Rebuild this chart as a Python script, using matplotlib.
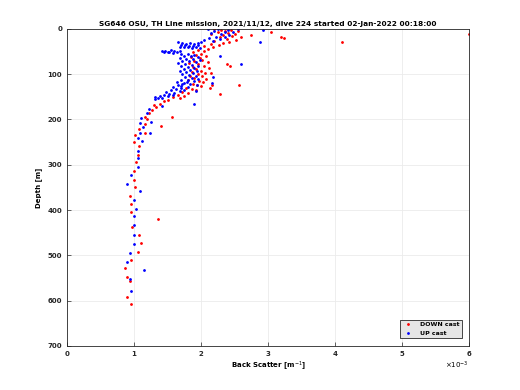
import numpy as np
import matplotlib
matplotlib.use('Agg')
import matplotlib.pyplot as plt

# back scatter in units of 1e-3 m^-1, depth in m
down_bs = [2.20, 2.30, 2.45, 2.35, 2.55, 2.25, 2.40, 2.50, 2.15, 2.32, 2.46, 2.60, 2.28, 2.38,
           2.52, 2.20, 2.42, 2.33, 2.15, 2.27, 2.05, 2.18, 2.10,
           3.05, 3.20, 3.24, 4.10, 6.00, 2.75,
           1.95, 2.05, 1.88, 2.00, 1.92, 2.08, 1.85, 1.98, 2.02, 1.90, 2.10, 1.82, 1.96, 2.04,
           1.88, 2.12, 1.93, 2.00, 1.86, 2.06, 1.95, 1.84, 2.02, 1.90, 2.08, 1.80, 1.97, 2.03,
           1.88, 1.94, 2.00, 1.78, 1.86, 1.92, 1.72, 1.80, 1.65, 1.74, 1.58, 1.68, 1.50,
           2.38, 2.43, 2.16, 2.13, 2.29, 2.56, 2.15,
           1.45, 1.38, 1.33, 1.29, 1.27, 1.22, 1.16, 1.57, 1.20, 1.40, 1.17, 1.07, 1.16, 1.01,
           1.00, 1.08, 1.06, 1.03, 1.00, 1.00, 1.02, 0.94, 0.96, 0.96, 1.36, 0.97, 1.08, 1.11,
           1.06, 0.96, 0.87, 0.90, 0.94, 0.90, 0.96]
down_z = [1, 2, 3, 5, 4, 7, 9, 11, 12, 14, 16, 18, 19, 22,
          24, 26, 28, 31, 33, 36, 38, 41, 44,
          7, 17, 21, 29, 12, 14,
          47, 49, 52, 55, 58, 60, 63, 65, 68, 71, 73, 76, 78, 81,
          84, 86, 89, 92, 95, 97, 100, 103, 105, 108, 110, 113, 115, 118,
          121, 124, 127, 130, 133, 136, 139, 142, 145, 148, 151, 153, 156,
          78, 83, 124, 131, 143, 124, 98,
          160, 165, 172, 168, 180, 185, 194, 194, 200, 214, 210, 221, 229, 234,
          249, 258, 278, 295, 314, 333, 350, 368, 386, 404, 420, 437, 455, 473,
          492, 511, 529, 548, 556, 593, 607]

up_bs = [2.10, 2.25, 2.40, 2.55, 2.93, 2.20, 2.35, 2.48, 2.15, 2.30, 2.42, 2.22, 2.36, 2.12,
         2.28, 2.05, 2.18, 2.88, 2.00, 1.95,
         1.66, 1.72, 1.78, 1.84, 1.90, 1.70, 1.76, 1.82, 1.88, 1.96, 1.68, 1.74, 1.80, 1.86,
         1.92, 1.98,
         1.41, 1.46, 1.50, 1.55, 1.60, 1.64, 1.69, 1.52, 1.58, 1.44,
         1.70, 1.80, 1.90, 1.75, 1.85, 1.95, 1.68, 1.78, 1.88, 1.98, 1.72, 1.82, 1.92, 1.66,
         1.76, 1.86, 1.96, 1.70, 1.80, 1.90, 1.74, 1.84, 1.94, 1.68, 1.78, 1.88, 1.72, 1.82,
         1.92, 1.76, 1.86, 1.96, 1.70, 1.80, 1.90, 1.64, 1.74, 1.84, 1.94, 1.70, 1.80,
         1.79, 1.72, 1.65, 1.58, 1.70, 1.62, 1.55, 1.48, 1.75, 1.68, 1.60, 1.52, 1.45, 1.38,
         1.31, 1.42, 1.50, 1.58, 1.35,
         2.59, 2.16, 2.18, 2.28, 1.92, 1.89,
         1.31, 1.41, 1.23, 1.19, 1.26, 1.10, 1.09, 1.13, 1.09, 1.24, 1.06, 1.12,
         1.06, 1.06, 1.06, 0.96, 0.90, 1.09, 1.00, 1.03, 1.00, 1.00, 1.00, 1.00, 0.94, 0.90,
         1.15, 0.94, 0.96]
up_z = [0, 1, 2, 1, 2, 4, 6, 8, 10, 12, 14, 17, 19, 21,
        23, 25, 27, 28, 30, 32,
        30, 31, 33, 32, 34, 35, 36, 37, 38, 36, 39, 40, 41, 42,
        40, 42,
        49, 48, 50, 47, 49, 51, 48, 52, 53, 51,
        55, 56, 57, 59, 61, 62, 64, 66, 67, 69, 71, 72, 74, 76,
        78, 79, 81, 83, 85, 86, 88, 90, 92, 94, 96, 98, 100, 102,
        104, 106, 108, 110, 112, 114, 116, 118, 120, 122, 124, 126, 128,
        118, 121, 125, 128, 130, 133, 136, 139, 134, 138, 141, 143, 145, 148,
        150, 152, 148, 146, 153,
        77, 120, 107, 61, 137, 166,
        155, 171, 177, 186, 205, 197, 207, 217, 229, 229, 240, 247,
        269, 286, 306, 323, 342, 358, 378, 397, 414, 434, 454, 474, 494, 514,
        532, 552, 578]

fs = 5
fig = plt.figure(figsize=(5.2, 3.9), dpi=100)
ax = fig.add_axes([0.129, 0.113, 0.773, 0.813])
ax.plot(down_bs, down_z, '.', color='red', markersize=2, label='DOWN cast')
ax.plot(up_bs, up_z, '.', color='blue', markersize=2, label='UP cast')

ax.set_xlim(0, 6)
ax.set_ylim(700, 0)
ax.set_xticks(range(7))
ax.set_yticks(range(0, 701, 100))
ax.tick_params(direction='in', labelsize=fs, length=3, width=0.5, colors='#262626')
for lab in ax.get_xticklabels() + ax.get_yticklabels():
    lab.set_fontweight('bold')
ax.grid(True, color='#ebebeb', linewidth=0.6)
for s in ax.spines.values():
    s.set_linewidth(0.6)
    s.set_color('#262626')

ax.set_xlabel('Back Scatter [m$^{-1}$]', fontsize=fs, fontweight='bold', labelpad=2)
ax.set_ylabel('Depth [m]', fontsize=fs, fontweight='bold', labelpad=4)
ax.set_title('SG646 OSU, TH Line mission, 2021/11/12, dive 224 started 02-Jan-2022 00:18:00',
             fontsize=fs + 0.3, fontweight='bold', pad=2)
ax.text(1.0, -0.045, r'$\times10^{-3}$', transform=ax.transAxes, ha='right', va='top',
        fontsize=fs)

leg = ax.legend(loc='lower right', frameon=True, fancybox=False,
                edgecolor='black', facecolor='#e6e6e6', markerscale=1, handlelength=2,
                borderaxespad=1.2, prop={'weight': 'bold', 'size': fs - 0.5})
leg.get_frame().set_linewidth(0.5)
leg.get_frame().set_alpha(1)

fig.savefig('out.png', dpi=100)
